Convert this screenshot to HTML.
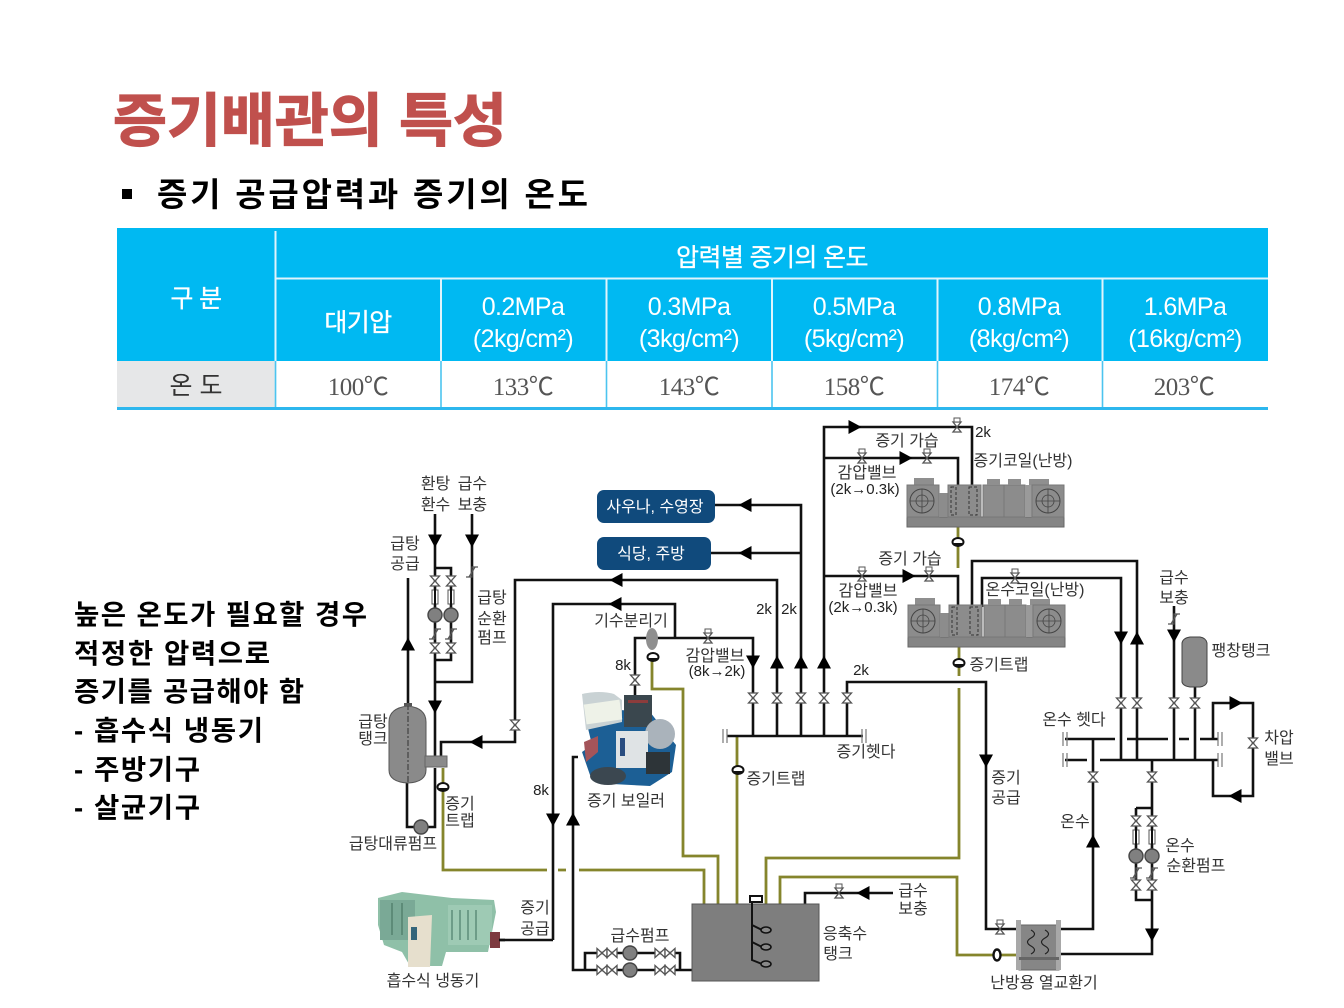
<!DOCTYPE html>
<html lang="ko"><head><meta charset="utf-8"><title>증기배관의 특성</title>
<style>
html,body{margin:0;padding:0;background:#fff}
svg{display:block}
text{font-family:"Liberation Sans","Noto Sans CJK KR",sans-serif}
.t{font-size:16px;fill:#333;text-anchor:middle}
.k{font-size:15px;fill:#222;text-anchor:middle}
.h{font-size:25px;fill:#fff;text-anchor:middle;letter-spacing:-.6px}
.v{font-size:25px;fill:#555;text-anchor:middle;font-family:"Liberation Serif","Noto Sans CJK KR",serif;letter-spacing:-.5px}
.l{font-size:27.5px;font-weight:700;fill:#000}
.p{fill:none;stroke:#111;stroke-width:2.6}
.o{fill:none;stroke:#85852c;stroke-width:2.8}
</style></head><body>
<svg width="1344" height="1008" viewBox="0 0 1344 1008" xmlns="http://www.w3.org/2000/svg">
<defs>
<path id="ad" d="M-7-6.5H7L0,6.5Z" fill="#000"/>
<path id="au" d="M-7,6.5H7L0-6.5Z" fill="#000"/>
<path id="al" d="M6.5-7V7L-6.5,0Z" fill="#000"/>
<path id="ar" d="M-6.5-7V7L6.5,0Z" fill="#000"/>
<path id="vv" d="M-4.5-5H4.5L-4.5,5H4.5Z" fill="#fff" stroke="#555" stroke-width="1.3"/>
<g id="vh"><path d="M-5-4.5V4.5L5-4.5V4.5Z" fill="#fff" stroke="#555" stroke-width="1.3"/></g>
<g id="gv"><path d="M-4-5H4L-4,5H4Z" fill="#fff" stroke="#555" stroke-width="1.3"/><rect x="-3" y="-9" width="6" height="4" fill="#fff" stroke="#555"/></g>
<g id="trap"><ellipse rx="5.5" ry="4" fill="#fff" stroke="#111" stroke-width="2"/><path d="M-4,1H4V3H-4Z" fill="#111"/></g>
<circle id="pump" r="7" fill="#808080" stroke="#444" stroke-width="1.4"/>
<g id="chk"><path d="M-6,5H0V-5L6,-5" fill="none" stroke="#555" stroke-width="1.3"/><path d="M-3,5L3-5" stroke="#555" stroke-width="1.3"/></g>
<g id="pv"><rect x="-3" y="-7" width="6" height="14" fill="#fff" stroke="#555"/><path d="M0-8V8" stroke="#111" stroke-width="2"/></g>
<g id="unit">
<rect x="0" y="32" width="157" height="10" fill="#858585" stroke="#666"/>
<rect x="7" y="-7" width="20" height="7" fill="#8f8f8f"/>
<rect x="0" y="0" width="32" height="32" fill="#8c8c8c" stroke="#777"/>
<circle cx="15" cy="16" r="12" fill="#8c8c8c" stroke="#444"/><circle cx="15" cy="16" r="6" fill="none" stroke="#444" stroke-width=".8"/><path d="M3,16H27M15,4V28" stroke="#444" stroke-width=".8"/>
<rect x="32" y="8" width="9" height="24" fill="#8c8c8c"/>
<rect x="41" y="0" width="33" height="32" fill="#8c8c8c" stroke="#777"/>
<rect x="44" y="2" width="5" height="28" fill="none" stroke="#333" stroke-dasharray="3 2"/>
<rect x="62" y="2" width="8" height="28" fill="none" stroke="#333" stroke-dasharray="3 2"/>
<rect x="76" y="0" width="21" height="32" fill="#8c8c8c" stroke="#777"/><rect x="97" y="0" width="21" height="32" fill="#8c8c8c" stroke="#777"/>
<rect x="118" y="0" width="7" height="32" fill="#9a9a9a"/>
<rect x="80" y="-6" width="13" height="6" fill="#8f8f8f"/><rect x="101" y="-6" width="13" height="6" fill="#8f8f8f"/><rect x="122" y="-6" width="20" height="6" fill="#8f8f8f"/>
<rect x="125" y="0" width="32" height="32" fill="#8c8c8c" stroke="#777"/>
<circle cx="141" cy="16" r="12" fill="#8c8c8c" stroke="#444"/><circle cx="141" cy="16" r="6" fill="none" stroke="#444" stroke-width=".8"/><path d="M129,16H153M141,4V28" stroke="#444" stroke-width=".8"/>
</g>
</defs>

<!-- Title -->
<text x="113" y="141" font-size="58" font-weight="700" fill="#c0504d" stroke="#c0504d" stroke-width="1.2" textLength="394" lengthAdjust="spacingAndGlyphs">증기배관의 특성</text>
<rect x="122" y="189" width="10" height="10" fill="#000"/>
<text x="157" y="206" font-size="33" font-weight="700" fill="#000" textLength="431" lengthAdjust="spacing">증기 공급압력과 증기의 온도</text>

<!-- Table -->
<rect x="117" y="228" width="1151" height="133" fill="#00b9f2"/>
<rect x="117" y="361" width="158" height="46" fill="#e6e7e8"/>
<rect x="117" y="407" width="1151" height="3" fill="#2db7ee"/>
<path d="M275.500 231V407" stroke="#dff4fc" stroke-width="2"/>
<path d="M276 278.500H1268" stroke="#dff4fc" stroke-width="2"/>
<path d="M441 279V361M606.500 279V361M772 279V361M937.500 279V361M1102.500 279V361" stroke="#dff4fc" stroke-width="2"/>
<path d="M441 361V407M606.500 361V407M772 361V407M937.500 361V407M1102.500 361V407M275.500 361V407" stroke="#4cc4ef" stroke-width="1.6"/>
<text class="h" x="196" y="307" stroke="#fff" stroke-width=".3">구 분</text>
<text class="h" x="772" y="266" stroke="#fff" stroke-width=".3">압력별 증기의 온도</text>
<text class="h" x="358" y="331" stroke="#fff" stroke-width=".3">대기압</text>
<text class="h" x="523" y="315">0.2MPa</text><text class="h" x="523" y="347">(2kg/cm²)</text>
<text class="h" x="689" y="315">0.3MPa</text><text class="h" x="689" y="347">(3kg/cm²)</text>
<text class="h" x="854" y="315">0.5MPa</text><text class="h" x="854" y="347">(5kg/cm²)</text>
<text class="h" x="1019" y="315">0.8MPa</text><text class="h" x="1019" y="347">(8kg/cm²)</text>
<text class="h" x="1185" y="315">1.6MPa</text><text class="h" x="1185" y="347">(16kg/cm²)</text>
<text x="196" y="394" font-size="25" fill="#333" text-anchor="middle">온 도</text>
<text class="v" x="358" y="395">100℃</text>
<text class="v" x="523" y="395">133℃</text>
<text class="v" x="689" y="395">143℃</text>
<text class="v" x="854" y="395">158℃</text>
<text class="v" x="1019" y="395">174℃</text>
<text class="v" x="1184" y="395">203℃</text>

<!-- Left text -->
<text class="l" x="74" y="624" textLength="293">높은 온도가 필요할 경우</text>
<text class="l" x="74" y="663" textLength="196">적정한 압력으로</text>
<text class="l" x="74" y="701" textLength="230">증기를 공급해야 함</text>
<text class="l" x="74" y="740" textLength="189">- 흡수식 냉동기</text>
<text class="l" x="74" y="779" textLength="126">- 주방기구</text>
<text class="l" x="74" y="817" textLength="126">- 살균기구</text>

<!-- Olive condensate lines -->
<path class="o" d="M443,768V870H547M558,870H566M579,870H704V904"/>
<path class="o" d="M652,660V689H683V856H718V904"/>
<path class="o" d="M737,736V904"/>
<path class="o" d="M959,665V676M959,688V858H766V904"/>
<path class="o" d="M780,904V877H957V955H1018"/>
<path class="o" d="M958,527V568"/>
<path class="o" d="M959,645V665"/>

<!-- Black pipes -->
<path class="p" d="M435,514V757M472,514V682H435"/>
<path class="p" d="M435,568H451V660H435"/>
<path class="p" d="M408,578V708"/>
<path class="p" d="M407,783V827H435V768"/>
<path class="p" d="M441,757V742H515V580H777V736"/>
<path class="p" d="M553,940V604H675V638"/>
<path class="p" d="M635,700V638H753V736"/>
<path class="p" d="M500,940H553"/>
<path class="p" d="M578,757H573V970H692"/>
<path class="p" d="M585,970V953H680V970"/>
<path class="p" d="M711,505H801V736M711,553H801"/>
<path class="p" d="M824,736V427H972V487M824,458H958V487M824,576H958V607"/>
<path class="p" d="M972,607V561H1137V760"/>
<path class="p" d="M982,607V578H1121V760"/>
<path class="p" d="M1174,606V760M1195,685V760"/>
<path class="p" d="M727,736H863"/>
<path class="p" d="M847,736V682H986V929H1018"/>
<path class="p" d="M1065,739H1115M1127,739H1168M1179,739H1189M1200,739H1218"/>
<path class="p" d="M1065,760H1087M1100,760H1218"/>
<path class="p" d="M1093,739V929H1060"/>
<path class="p" d="M1152,760V954H1060"/>
<path class="p" d="M1136,808H1152M1136,808V900H1152"/>
<path class="p" d="M1213,739V703H1253V796H1213V760"/>
<path class="p" d="M805,904V893H893"/>
<path d="M723,729V743M727,729V743M866,729V743M862,729V743M1063,732V746M1067,732V746M1063,753V767M1067,753V767M1218,732V746M1222,732V746M1218,753V767M1222,753V767" stroke="#777" stroke-width="1.2"/>

<!-- Units -->
<use href="#unit" x="907" y="485"/>
<use href="#unit" x="908" y="605"/>

<!-- Tanks -->
<path d="M389,722Q389,708 408,706Q426,708 426,722V770Q426,782 408,783Q389,782 389,770Z" fill="#8a8a8a" stroke="#555"/>
<path d="M408,704V783" stroke="#333" stroke-dasharray="6 2 2 2"/>
<rect x="425" y="756" width="22" height="11" fill="#8a8a8a" stroke="#666"/>
<rect x="404" y="703" width="8" height="3" fill="#555"/>
<path d="M1182,643Q1183,638 1190,637H1200Q1206,638 1207,643V682Q1206,686 1200,687H1190Q1183,686 1182,682Z" fill="#8a8a8a" stroke="#444"/>
<ellipse cx="652" cy="639" rx="6" ry="11" fill="#8f8f8f"/>
<rect x="692" y="904" width="127" height="77" fill="#7e7e7e" stroke="#555"/>
<rect x="750" y="896" width="12" height="6" fill="#fff" stroke="#111" stroke-width="2"/>
<path d="M752,902V960L762,964M752,925L762,930M752,942L762,947" fill="none" stroke="#111" stroke-width="2"/>
<ellipse cx="766" cy="930" rx="5" ry="3" fill="#888" stroke="#111" stroke-width="1.6"/>
<ellipse cx="766" cy="947" rx="5" ry="3" fill="#888" stroke="#111" stroke-width="1.6"/>
<ellipse cx="766" cy="964" rx="5" ry="3" fill="#888" stroke="#111" stroke-width="1.6"/>
<!-- Heat exchanger -->
<rect x="1019" y="925" width="40" height="45" fill="#868686" stroke="#666"/>
<rect x="1016" y="920" width="5" height="50" fill="#a8a8a8"/><rect x="1056" y="920" width="5" height="50" fill="#a8a8a8"/>
<path d="M1031,930Q1038,934 1031,938Q1024,942 1031,946Q1038,950 1031,954M1045,930Q1052,934 1045,938Q1038,942 1045,946Q1052,950 1045,954" fill="none" stroke="#222" stroke-width="1.2"/>
<rect x="1019" y="957" width="40" height="3" fill="#666"/>
<ellipse cx="997" cy="955" rx="3.500" ry="5.500" fill="#fff" stroke="#111" stroke-width="2.4"/>

<!-- Blue boxes -->
<rect x="597" y="490" width="118" height="33" rx="7" fill="#104a7c"/>
<rect x="597" y="537" width="114" height="33" rx="7" fill="#104a7c"/>
<text x="655" y="512" font-size="16" fill="#fff" text-anchor="middle">사우나, 수영장</text>
<text x="651" y="559" font-size="16" fill="#fff" text-anchor="middle">식당, 주방</text>

<!-- Boiler -->
<g>
<path d="M586,720L620,710L650,712L668,735L676,745L672,772L650,786L612,784L590,775L582,752L592,745Z" fill="#1c5f95"/>
<path d="M582,694Q600,690 614,694L622,700V722L586,730Z" fill="#c9d2d4"/>
<rect x="585" y="702" width="36" height="20" fill="#eef2e8" transform="rotate(-8 603 712)"/>
<rect x="624" y="695" width="28" height="32" fill="#3a474e"/>
<rect x="628" y="700" width="20" height="3" fill="#8c3c3c"/>
<circle cx="660" cy="734" r="15" fill="#aab3bb"/>
<rect x="616" y="731" width="32" height="37" fill="#dfe3e5"/>
<rect x="620" y="738" width="5" height="18" fill="#2a4d80"/>
<ellipse cx="608" cy="776" rx="18" ry="9" fill="#3b4750"/>
<rect x="646" y="752" width="24" height="22" fill="#2d3438"/>
<path d="M584,742L598,736V752L586,762Z" fill="#a4545a"/>
</g>

<!-- Chiller -->
<g>
<path d="M378,898L402,892L452,898L494,900L496,912L488,952H446L442,966H410L402,952L384,945L378,925Z" fill="#8fc0a8"/>
<path d="M448,905H492V945H448Z" fill="#9ecab4"/>
<path d="M452,910V940M460,910V940M468,910V940M476,910V940" stroke="#6d9c88" stroke-width="2"/>
<path d="M380,900H415V940H380Z" fill="#7aa996"/>
<path d="M392,903V935M402,903V935" stroke="#5d8b78" stroke-width="2"/>
<path d="M408,917L432,915L430,967H408Z" fill="#e6dfcd"/>
<rect x="411" y="927" width="6" height="13" fill="#34657a"/>
<rect x="490" y="932" width="10" height="16" fill="#7d3a3f"/>
</g>
<path class="p" d="M499,940H505"/>

<!-- Arrowheads -->
<use href="#ad" x="435" y="541"/><use href="#ad" x="472" y="541"/>
<use href="#ad" x="435" y="707"/>
<use href="#au" x="408" y="644"/>
<use href="#al" x="616" y="580"/><use href="#al" x="615" y="604"/>
<use href="#al" x="476" y="742"/>
<use href="#ad" x="553" y="820"/><use href="#au" x="573" y="819"/>
<use href="#al" x="745" y="505"/><use href="#al" x="745" y="553"/>
<use href="#ad" x="753" y="662"/><use href="#au" x="777" y="662"/><use href="#au" x="801" y="662"/><use href="#au" x="824" y="662"/>
<use href="#ar" x="855" y="427"/><use href="#ar" x="906" y="458"/><use href="#ar" x="909" y="576"/>
<use href="#ad" x="986" y="761"/>
<use href="#ad" x="1121" y="638"/><use href="#au" x="1137" y="638"/><use href="#ad" x="1174" y="636"/>
<use href="#au" x="1093" y="841"/><use href="#ad" x="1152" y="935"/>
<use href="#ar" x="1236" y="703"/><use href="#al" x="1235" y="796"/>
<use href="#al" x="863" y="893"/>

<!-- Valves -->
<g>
<use href="#vv" x="435" y="581"/><use href="#vv" x="451" y="581"/><use href="#vv" x="435" y="648"/><use href="#vv" x="451" y="648"/>
<use href="#pv" x="435" y="597"/><use href="#pv" x="451" y="597"/>
<use href="#pump" x="435" y="615"/><use href="#pump" x="451" y="615"/>
<use href="#chk" x="435" y="634"/><use href="#chk" x="451" y="634"/><use href="#chk" x="472" y="572"/>
<use href="#pump" x="421" y="827"/>
<use href="#vv" x="515" y="725"/>
<use href="#vv" x="635" y="680"/>
<use href="#gv" x="708" y="638"/><use href="#gv" x="862" y="458"/><use href="#gv" x="927" y="458"/><use href="#gv" x="957" y="427"/><use href="#gv" x="862" y="576"/><use href="#gv" x="929" y="576"/><use href="#gv" x="1015" y="578"/><use href="#gv" x="839" y="893"/><use href="#gv" x="1000" y="929"/>
<use href="#vv" x="753" y="698"/><use href="#vv" x="777" y="698"/><use href="#vv" x="801" y="698"/><use href="#vv" x="824" y="698"/><use href="#vv" x="847" y="698"/>
<use href="#vv" x="1121" y="703"/><use href="#vv" x="1137" y="703"/><use href="#vv" x="1174" y="703"/><use href="#vv" x="1195" y="703"/>
<use href="#chk" x="1174" y="619"/>
<use href="#vv" x="1093" y="777"/><use href="#vv" x="1152" y="777"/>
<use href="#vv" x="1136" y="821"/><use href="#vv" x="1152" y="821"/><use href="#vv" x="1136" y="885"/><use href="#vv" x="1152" y="885"/>
<use href="#pv" x="1136" y="837"/><use href="#pv" x="1152" y="837"/>
<use href="#pump" x="1136" y="856"/><use href="#pump" x="1152" y="856"/>
<use href="#chk" x="1136" y="873"/><use href="#chk" x="1152" y="873"/>
<use href="#vv" x="1253" y="743"/>
<use href="#trap" x="653" y="657"/><use href="#trap" x="443" y="787"/><use href="#trap" x="738" y="770"/><use href="#trap" x="958" y="542"/><use href="#trap" x="959" y="663"/>
<use href="#vh" x="602" y="953"/><use href="#vh" x="612" y="953"/><use href="#vh" x="660" y="953"/><use href="#vh" x="670" y="953"/>
<use href="#vh" x="602" y="970"/><use href="#vh" x="612" y="970"/><use href="#vh" x="660" y="970"/><use href="#vh" x="670" y="970"/>
<use href="#pump" x="630" y="953"/><use href="#pump" x="630" y="970"/>
</g>

<!-- Labels -->
<text class="t" x="454" y="489" word-spacing="3">환탕 급수</text><text class="t" x="454" y="510" word-spacing="3">환수 보충</text>
<text class="t" x="405" y="549">급탕</text><text class="t" x="405" y="569">공급</text>
<text class="t" x="492" y="603">급탕</text><text class="t" x="492" y="624">순환</text><text class="t" x="492" y="643">펌프</text>
<text class="t" x="373" y="727">급탕</text><text class="t" x="373" y="744">탱크</text>
<text class="t" x="460" y="809">증기</text><text class="t" x="460" y="826">트랩</text>
<text class="t" x="393" y="849">급탕대류펌프</text>
<text class="k" x="541" y="795">8k</text><text class="k" x="623" y="670">8k</text>
<text class="t" x="631" y="626">기수분리기</text>
<text class="t" x="626" y="806">증기 보일러</text>
<text class="t" x="535" y="913">증기</text><text class="t" x="535" y="934">공급</text>
<text class="t" x="433" y="986">흡수식 냉동기</text>
<text class="t" x="640" y="941">급수펌프</text>
<text class="t" x="845" y="939">응축수</text><text class="t" x="838" y="959">탱크</text>
<text class="t" x="913" y="896">급수</text><text class="t" x="913" y="914">보충</text>
<text class="t" x="1044" y="988">난방용 열교환기</text>
<text class="t" x="866" y="757">증기헷다</text>
<text class="t" x="776" y="784">증기트랩</text>
<text class="t" x="1006" y="783">증기</text><text class="t" x="1006" y="803">공급</text>
<text class="t" x="1075" y="827">온수</text>
<text class="t" x="1180" y="851">온수</text><text class="t" x="1196" y="871">순환펌프</text>
<text class="t" x="1074" y="725">온수 헷다</text>
<text class="t" x="1279" y="743">차압</text><text class="t" x="1279" y="764">밸브</text>
<text class="t" x="1241" y="656">팽창탱크</text>
<text class="t" x="1174" y="583">급수</text><text class="t" x="1174" y="603">보충</text>
<text class="t" x="1035" y="595">온수코일(난방)</text>
<text class="t" x="999" y="670">증기트랩</text>
<text class="k" x="983" y="437">2k</text><text class="k" x="764" y="614">2k</text><text class="k" x="789" y="614">2k</text><text class="k" x="861" y="675">2k</text>
<text class="t" x="907" y="446">증기 가습</text><text class="t" x="910" y="564">증기 가습</text>
<text class="t" x="1023" y="466">증기코일(난방)</text>
<text class="t" x="867" y="478">감압밸브</text><text class="k" x="865" y="494">(2k→0.3k)</text>
<text class="t" x="868" y="596">감압밸브</text><text class="k" x="863" y="612">(2k→0.3k)</text>
<text class="t" x="715" y="661">감압밸브</text><text class="k" x="717" y="676">(8k→2k)</text>
</svg>
</body></html>
